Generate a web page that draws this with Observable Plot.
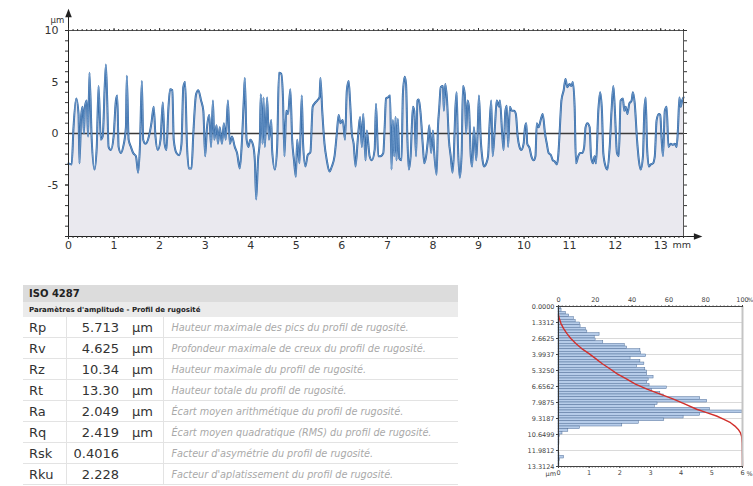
<!DOCTYPE html>
<html><head><meta charset="utf-8">
<script src="https://cdn.jsdelivr.net/npm/d3@7"></script>
<script src="https://cdn.jsdelivr.net/npm/@observablehq/plot@0.6"></script>
<style>
html,body{margin:0;padding:0;background:#fff;}
body{width:753px;height:486px;position:relative;overflow:hidden;font-family:"DejaVu Sans",Verdana,sans-serif;}
#top{position:absolute;left:0;top:0;}
#hist{position:absolute;left:500px;top:285px;}
#tbl{position:absolute;left:23px;top:285px;width:435px;border-collapse:collapse;table-layout:fixed;color:#333;}
#tbl td{padding:0;white-space:nowrap;overflow:hidden;}
#tbl .h1 td{background:#dcdcdc;font-weight:bold;font-size:10px;height:17px;padding-left:6px;color:#222;}
#tbl .h2 td{background:#ebebeb;font-weight:bold;font-size:7px;height:15px;padding-left:6px;color:#222;}
#tbl .r td{height:20px;border-bottom:1px solid #e3e3e3;}
#tbl .n{padding-left:6px;font-size:13px;}
#tbl .v{text-align:right;padding-right:1px;font-size:13px;border-left:1px solid #e3e3e3;}
#tbl .u{padding-left:12px;font-size:13px;}
#tbl .d{padding-left:8px;font-size:9.7px;font-style:italic;color:#a9a9a9;border-left:1px solid #e3e3e3;}
</style>
</head><body>
<div id="top"></div>
<table id="tbl">
<colgroup><col style="width:43px"><col style="width:54px"><col style="width:43px"><col></colgroup>
<tbody id="tbody">
<tr class="h1"><td colspan="4">ISO 4287</td></tr>
<tr class="h2"><td colspan="4">Paramètres d'amplitude - Profil de rugosité</td></tr>
</tbody>
</table>
<div id="hist"></div>
<script>
// ---------- Profile (mm, µm) ----------
const profile = [
[0.00,-2.9],[0.07,-3.0],[0.11,0.6],[0.17,3.4],[0.22,1.9],[0.24,-2.9],[0.28,1.8],[0.31,2.6],[0.34,0.0],[0.36,2.6],[0.40,3.2],[0.43,-0.3],[0.46,5.9],[0.51,-0.6],[0.57,-3.5],[0.62,-1.3],[0.66,4.6],[0.71,-0.6],[0.75,-0.3],[0.82,6.7],[0.85,3.2],[0.88,-1.3],[0.93,-1.6],[0.99,-0.3],[1.04,3.2],[1.07,3.7],[1.10,-1.3],[1.15,-1.9],[1.20,-1.3],[1.26,0.6],[1.28,5.6],[1.32,-0.6],[1.37,-1.3],[1.42,-1.9],[1.48,-2.2],[1.53,-3.8],[1.57,-1.0],[1.61,5.1],[1.64,-0.6],[1.69,-1.0],[1.77,-0.2],[1.82,1.0],[1.87,2.6],[1.91,-0.3],[1.96,-1.6],[2.02,-0.6],[2.07,3.0],[2.11,-1.0],[2.15,-1.6],[2.19,2.2],[2.23,4.3],[2.28,4.2],[2.31,-0.6],[2.37,-1.9],[2.43,-2.1],[2.48,-1.0],[2.52,4.5],[2.56,5.0],[2.60,-1.0],[2.64,-3.4],[2.70,-3.4],[2.74,0.0],[2.80,3.8],[2.85,4.2],[2.91,3.2],[2.96,2.2],[3.00,-2.2],[3.04,0.6],[3.09,1.8],[3.13,-1.3],[3.17,3.2],[3.20,-0.6],[3.25,0.8],[3.28,-1.0],[3.32,0.6],[3.37,-1.0],[3.41,1.0],[3.45,-0.6],[3.50,3.2],[3.54,-1.0],[3.59,-0.3],[3.65,-1.3],[3.70,-1.9],[3.76,-3.4],[3.80,-1.3],[3.85,3.5],[3.87,5.4],[3.91,-0.6],[3.95,-1.3],[3.99,-0.6],[4.05,-1.1],[4.09,-2.6],[4.12,-6.4],[4.16,-2.6],[4.20,-0.6],[4.22,3.8],[4.26,-1.0],[4.28,3.5],[4.31,-1.3],[4.36,3.5],[4.40,-0.6],[4.45,1.3],[4.47,-1.6],[4.53,-3.5],[4.58,-1.3],[4.62,5.9],[4.67,5.8],[4.71,3.2],[4.74,-2.2],[4.78,2.2],[4.82,1.9],[4.87,4.3],[4.91,-0.6],[4.95,-2.6],[4.99,-4.2],[5.02,-0.6],[5.07,-2.9],[5.12,3.7],[5.15,-1.0],[5.20,-3.2],[5.25,-2.1],[5.31,-1.8],[5.36,2.6],[5.40,2.9],[5.46,3.2],[5.51,3.5],[5.53,5.4],[5.57,2.2],[5.62,-1.0],[5.67,-2.6],[5.73,-3.7],[5.78,-3.2],[5.84,-2.2],[5.89,0.0],[5.93,1.8],[5.97,1.0],[6.02,1.3],[6.07,-0.6],[6.11,4.2],[6.15,5.1],[6.18,3.2],[6.22,0.0],[6.26,-1.0],[6.30,-3.2],[6.35,-0.6],[6.40,1.6],[6.44,-1.3],[6.47,1.9],[6.52,-2.6],[6.55,0.3],[6.61,-2.2],[6.66,-2.6],[6.72,-1.6],[6.75,2.9],
[6.80,-2.2],[6.85,-2.2],[6.91,-1.9],[6.94,0.6],[6.97,3.4],[7.01,3.5],[7.06,3.7],[7.09,-3.5],[7.12,1.3],[7.15,-2.2],[7.18,1.6],[7.20,-2.6],[7.23,1.4],[7.26,-2.4],[7.31,-2.6],[7.34,3.8],[7.38,5.5],[7.41,4.8],[7.44,-0.6],[7.47,-3.5],[7.51,-2.2],[7.56,2.6],[7.59,2.2],[7.63,-2.2],[7.66,3.2],[7.69,3.3],[7.73,1.9],[7.78,-1.3],[7.81,-2.9],[7.85,-2.2],[7.89,-0.6],[7.92,0.8],[7.96,-1.9],[8.00,0.3],[8.02,-1.3],[8.08,-4.0],[8.11,0.6],[8.14,2.6],[8.17,4.5],[8.22,4.6],[8.24,2.2],[8.27,4.8],[8.31,3.2],[8.35,-0.6],[8.39,-2.2],[8.43,-3.8],[8.46,-1.9],[8.49,2.2],[8.52,4.0],[8.55,-1.3],[8.59,-4.3],[8.63,-1.9],[8.66,4.6],[8.70,3.8],[8.73,0.0],[8.76,3.2],[8.79,2.6],[8.83,-2.2],[8.86,-3.2],[8.90,0.6],[8.95,-2.6],[8.98,0.0],[9.01,3.7],[9.05,-0.6],[9.09,-2.6],[9.12,-3.2],[9.17,-2.9],[9.21,-2.2],[9.24,0.6],[9.28,3.2],[9.31,-2.2],[9.36,0.6],[9.40,3.2],[9.45,2.6],[9.47,3.2],[9.52,0.0],[9.55,-1.6],[9.59,2.2],[9.62,2.7],[9.65,-1.3],[9.69,2.6],[9.73,2.2],[9.78,2.2],[9.82,1.9],[9.86,-0.3],[9.90,-1.3],[9.94,-1.6],[9.99,-1.0],[10.02,0.6],[10.05,1.0],[10.07,-1.0],[10.12,-1.4],[10.16,-2.2],[10.21,-2.6],[10.25,-2.2],[10.28,1.0],[10.32,0.6],[10.37,1.4],[10.41,1.9],[10.46,0.0],[10.50,-1.0],[10.54,-1.9],[10.59,-2.1],[10.63,-2.6],[10.67,-2.7],[10.72,-3.0],[10.75,-2.2],[10.78,0.0],[10.82,3.2],[10.87,4.2],[10.91,5.3],[10.95,4.5],[11.00,4.8],[11.04,4.6],[11.07,5.0],[11.11,2.6],[11.14,-2.9],[11.19,-2.2],[11.23,-1.9],[11.28,-1.9],[11.32,-1.3],[11.35,0.6],[11.39,1.0],[11.44,0.6],[11.47,-2.2],[11.51,-2.9],[11.55,-2.2],[11.58,-2.9],[11.63,2.2],[11.67,4.0],[11.71,2.2],[11.74,-1.9],[11.79,-3.2],[11.83,-3.5],[11.88,-1.3],[11.92,2.2],[11.96,4.6],[11.99,2.6],[12.04,-1.9],[12.08,-2.2],[12.12,3.2],[12.17,3.4],[12.20,2.2],[12.23,2.6],[12.27,1.9],[12.31,2.9],[12.36,3.2],[12.39,4.0],[12.43,2.9],[12.48,-0.6],[12.52,-2.6],[12.56,-3.5],[12.61,-2.2],[12.64,2.2],[12.67,3.5],[12.70,-1.3],[12.74,-3.2],[12.78,-3.0],[12.83,-2.9],[12.87,-2.2],[12.91,1.3],[12.96,1.9],[12.99,1.8],[13.02,-0.6],[13.05,-2.2],[13.09,2.2],[13.13,2.6],[13.17,-1.3],[13.22,-1.0],[13.27,-1.1],[13.31,-1.0],[13.35,-1.3],[13.38,0.6],[13.41,3.5],[13.44,2.6],[13.47,3.2],[13.50,3.5]
];
const xTicksMm = [0,1,2,3,4,5,6,7,8,9,10,11,12,13];
const yTicksUm = [-5,0,5,10];
const xDomainMm = [0, 13.5];
const yDomainUm = [-10, 10];

// ---------- Table ----------
const paramNames = ["Rp","Rv","Rz","Rt","Ra","Rq","Rsk","Rku"];
const paramValues = ["5.713","4.625","10.34","13.30","2.049","2.419","0.4016","2.228"];
const paramUnits = ["µm","µm","µm","µm","µm","µm","",""];
const paramDescs = [
 "Hauteur maximale des pics du profil de rugosité.",
 "Profondeur maximale de creux du profil de rugosité.",
 "Hauteur maximale du profil de rugosité.",
 "Hauteur totale du profil de rugosité.",
 "Écart moyen arithmétique du profil de rugosité.",
 "Écart moyen quadratique (RMS) du profil de rugosité.",
 "Facteur d'asymétrie du profil de rugosité.",
 "Facteur d'aplatissement du profil de rugosité."
];

// ---------- Histogram (% per depth bin) & cumulative curve ----------
const depthTickLabels = ["0.0000","1.3312","2.6625","3.9937","5.3250","6.6562","7.9875","9.3187","10.6499","11.9812","13.3124"];
const histPct = [0.08,0.10,0.24,0.35,0.50,0.56,0.70,0.72,0.89,0.94,1.34,1.18,1.21,1.46,2.16,2.24,2.67,2.69,2.86,2.35,
 2.67,2.80,2.56,2.83,2.89,2.89,3.10,2.94,2.89,2.97,3.53,3.05,3.32,3.43,4.62,4.85,3.23,3.14,4.94,6.00,
 4.62,4.08,3.45,2.62,2.08,0.70,0.32,0.13,0.05,0.03,0.03,0.03,0.02,0.02,0.02,0.03,0.18,0.05,0.03,0.03];
const cumDepth = [0.70,0.98,1.40,1.82,2.24,2.66,3.08,3.50,3.92,4.34,4.76,5.18,5.61,6.03,6.45,6.87,7.29,7.71,8.13,8.55,8.83,9.11,9.39,9.67,9.95,10.23,10.51,10.79,11.35,12.19,13.31];
const cumPct = [0,0.4,1.3,2.7,4.5,6.7,9.4,12.6,16.6,20.2,23.8,27.9,31.9,36.9,41.8,48.1,55.3,62.5,68.8,75.1,80.5,85.9,89.9,93.5,95.9,97.7,98.9,99.5,99.8,99.9,100];
const topPctTicks = [0,20,40,60,80,100];
const bottomPctTicks = [0,1,2,3,4,5,6];

// build table rows
const tb = document.getElementById("tbody");
paramNames.forEach((n,i)=>{
  const tr = document.createElement("tr"); tr.className="r";
  tr.innerHTML = `<td class="n">${n}</td><td class="v">${paramValues[i]}</td><td class="u">${paramUnits[i]}</td><td class="d">${paramDescs[i]}</td>`;
  tb.appendChild(tr);
});

const rightTri = {draw(ctx, size){const r=Math.sqrt(size/3); ctx.moveTo(r*1.6,0); ctx.lineTo(-r,-r); ctx.lineTo(-r,r); ctx.closePath();}};
const upTri = {draw(ctx, size){const r=Math.sqrt(size/3); ctx.moveTo(0,-r*1.6); ctx.lineTo(r,r); ctx.lineTo(-r,r); ctx.closePath();}};

const minorX = d3.range(0, 135.5, 1).map(d=>d/10);
const unitY = d3.range(-10, 11, 1);

const topChart = Plot.plot({
  width: 753, height: 258,
  marginLeft: 68, marginRight: 70, marginTop: 30, marginBottom: 22,
  style: {fontFamily: "'DejaVu Sans', Verdana, sans-serif", fontSize: "11px", color: "#333", background: "transparent", overflow: "visible"},
  x: {domain: xDomainMm},
  y: {domain: yDomainUm},
  marks: [
    Plot.areaY(profile, {x: d=>d[0], y1: yDomainUm[0], y2: d=>d[1], fill: "#eae9ef", curve: "monotone-x"}),
    Plot.ruleY([0], {stroke: "#3a3a3a", strokeWidth: 1.3}),
    Plot.line(profile, {x: d=>d[0], y: d=>d[1], stroke: "#2c63a2", strokeWidth: 2.0, curve: "monotone-x"}),
    Plot.line(profile, {x: d=>d[0], y: d=>d[1], stroke: "#86aed8", strokeWidth: 0.7, curve: "monotone-x"}),
    Plot.ruleY([yDomainUm[1]], {stroke: "#555"}),
    Plot.ruleX([xDomainMm[1]], {y1: yDomainUm[0], y2: yDomainUm[1], stroke: "#555"}),
    Plot.ruleX([0], {y1: yDomainUm[0], y2: 11.6, stroke: "#222"}),
    Plot.ruleY([yDomainUm[0]], {x1: 0, x2: 13.8, stroke: "#222"}),
    Plot.dot([0], {x: 0, y: 11.6, symbol: upTri, r: 3.2, fill: "#222", stroke: null}),
    Plot.dot([0], {x: 13.8, y: yDomainUm[0], symbol: rightTri, r: 3.2, fill: "#222", stroke: null}),
    // axes
    Plot.axisX({anchor: "bottom", ticks: minorX, tickSize: 2, tickFormat: () => "", label: null}),
    Plot.axisX({anchor: "bottom", ticks: xTicksMm, tickSize: 3, tickPadding: 2, tickFormat: d => String(d), label: null}),
    Plot.axisX({anchor: "top", ticks: minorX, tickSize: 2, tickFormat: () => "", label: null}),
    Plot.axisX({anchor: "top", ticks: xTicksMm, tickSize: 3, tickFormat: () => "", label: null}),
    Plot.axisY({anchor: "left", ticks: unitY, tickSize: 3, tickFormat: () => "", label: null}),
    Plot.axisY({anchor: "left", ticks: yTicksUm, tickSize: 3, tickPadding: 7, tickFormat: d => String(d), label: null}),
    Plot.axisY({anchor: "right", ticks: unitY, tickSize: 3, tickFormat: () => "", label: null}),
    Plot.text(["µm"], {frameAnchor: "top-left", dx: -18, dy: -14, fontSize: 8.5, fill: "#333"}),
    Plot.text(["mm"], {frameAnchor: "bottom-right", dx: -11, dy: 11, textAnchor: "start", fontSize: 9.5, fill: "#333"})
  ]
});
document.getElementById("top").appendChild(topChart);

const depthMax = +depthTickLabels[depthTickLabels.length-1];
const binW = depthMax / histPct.length;
const pctScale = 6/100;

const histChart = Plot.plot({
  width: 253, height: 200,
  marginLeft: 58, marginRight: 11, marginTop: 21, marginBottom: 19,
  style: {fontFamily: "'DejaVu Sans', Verdana, sans-serif", fontSize: "6.5px", color: "#444", background: "transparent", overflow: "visible"},
  x: {domain: [0, 6]},
  y: {domain: [0, depthMax], reverse: true},
  marks: [
    Plot.ruleY(depthTickLabels.map(Number), {stroke: "#dadada"}),
    Plot.rect(histPct, {x1: 0, x2: d=>d, y1: (d,i)=>i*binW, y2: (d,i)=>(i+1)*binW, fill: "#b6cce9", stroke: "#506f98", strokeWidth: 0.5}),
    Plot.line(cumDepth, {x: (d,i)=>cumPct[i]*pctScale, y: d=>d, stroke: "#d2302c", strokeWidth: 1.4}),
    Plot.ruleX([6], {stroke: "#c4c4c4", strokeWidth: 2}),
    Plot.ruleX([0], {stroke: "#333"}),
    Plot.ruleY([0], {stroke: "#444"}),
    Plot.ruleY([depthMax], {stroke: "#444"}),
    Plot.axisY({anchor: "left", ticks: depthTickLabels.map(Number), tickSize: 2, tickPadding: 2, tickFormat: d=>d.toFixed(4), label: null}),
    Plot.axisX({anchor: "bottom", ticks: d3.range(0, 60.5, 1).map(d=>d/10), tickSize: 1.5, tickFormat: ()=>"", label: null}),
    Plot.axisX({anchor: "bottom", ticks: bottomPctTicks, tickSize: 2, tickPadding: 2, tickFormat: d => String(d), label: null}),
    Plot.axisX({anchor: "top", ticks: d3.range(0, 101, 2).map(p=>p*pctScale), tickSize: 1.5, tickFormat: ()=>"", label: null}),
    Plot.axisX({anchor: "top", ticks: topPctTicks.map(p=>p*pctScale), tickSize: 2, tickPadding: 3, tickFormat: d=>String(Math.round(d/pctScale)), label: null}),
    Plot.text(["µm"], {frameAnchor: "bottom-left", dx: -13, dy: 9, fontSize: 6.5, fill: "#444"}),
    Plot.text(["%"], {frameAnchor: "bottom-right", dx: 4, dy: 9, textAnchor: "start", fontSize: 6.5, fill: "#444"}),
    Plot.text(["%"], {frameAnchor: "top-right", dx: 5, dy: -9, textAnchor: "start", fontSize: 6, fill: "#444"})
  ]
});
document.getElementById("hist").appendChild(histChart);
</script>
</body></html>
